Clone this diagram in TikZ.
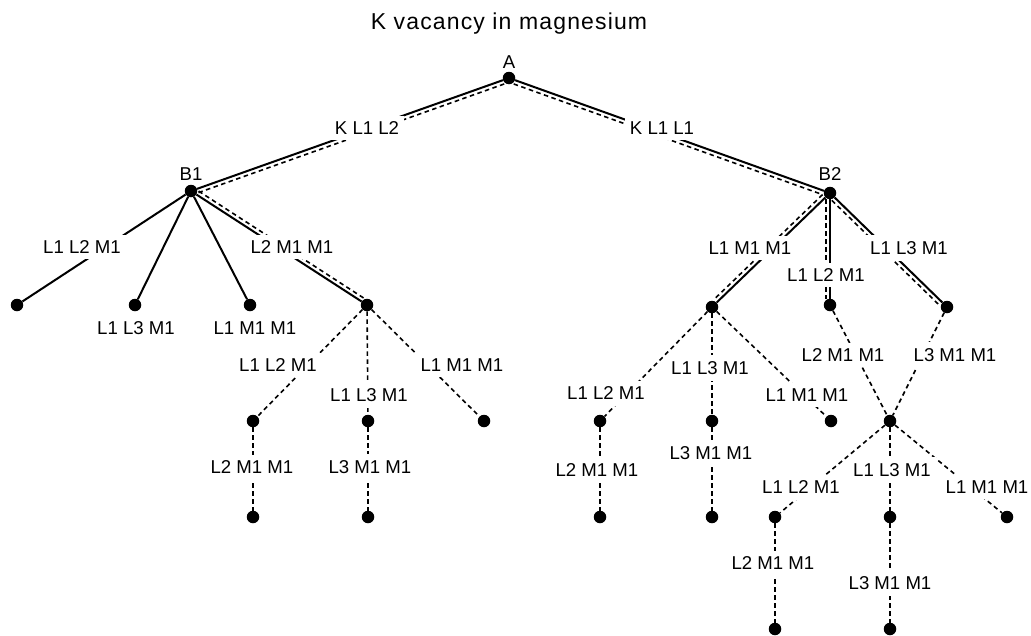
\documentclass[tikz,border=0pt]{standalone}
\usepackage{fontspec}
\setmainfont{Liberation Sans}
\begin{document}
\begin{tikzpicture}[x=1pt,y=-1pt,
  blob/.style={circle,fill=black,inner sep=0pt,minimum size=12.5pt},
  lab/.style={fill=white,inner xsep=5pt,inner ysep=6pt,font=\fontsize{18.6}{20}\selectfont},
  txt/.style={inner sep=0pt,font=\fontsize{18.6}{20}\selectfont},
  sol/.style={line width=2pt},
  dsh/.style={line width=1.6pt,dash pattern=on 4.5pt off 3.5pt}]
\useasboundingbox (0,0) rectangle (1031,635);
% title
\node[inner sep=0pt,anchor=base,font=\fontsize{23}{25}\selectfont\addfontfeature{LetterSpace=5}] (title) at (509,29.5) {K vacancy in magnesium};
% dots
\node[blob] (A) at (509,78) {};
\node[blob] (B1) at (191,191) {};
\node[blob] (B2) at (830,193) {};
\node[blob] (da) at (17,305) {};
\node[blob] (db) at (135,305) {};
\node[blob] (dc) at (250,305) {};
\node[blob] (n1) at (367,305) {};
\node[blob] (n1a) at (253,421) {};
\node[blob] (n1al) at (253,517) {};
\node[blob] (n1b) at (368,421) {};
\node[blob] (n1bl) at (368,517) {};
\node[blob] (n1c) at (484,421) {};
\node[blob] (n2) at (712,307) {};
\node[blob] (n3) at (830,305) {};
\node[blob] (n4) at (947,307) {};
\node[blob] (n2a) at (600,421) {};
\node[blob] (n2al) at (600,517) {};
\node[blob] (n2b) at (712,421) {};
\node[blob] (n2bl) at (712,517) {};
\node[blob] (n2c) at (831,421) {};
\node[blob] (n5) at (890,421) {};
\node[blob] (n5a) at (775,517) {};
\node[blob] (n5al) at (775,629) {};
\node[blob] (n5b) at (890,517) {};
\node[blob] (n5bl) at (890,629) {};
\node[blob] (n5c) at (1007,517) {};
% double edges (solid + dashed)
\draw[sol] (A) -- (B1);
\draw[dsh,transform canvas={shift={(1.3pt,-3.8pt)}}] (A) -- (B1);
\draw[sol] (A) -- (B2);
\draw[dsh,transform canvas={shift={(-1.35pt,-3.8pt)}}] (A) -- (B2);
\draw[sol] (B1) -- (n1);
\draw[dsh,transform canvas={shift={(2.2pt,3.4pt)}}] (B1) -- (n1);
\draw[sol] (B2) -- (n2);
\draw[dsh,transform canvas={shift={(-2.8pt,2.9pt)}}] (B2) -- (n2);
\draw[sol] (B2) -- (n3);
\draw[dsh,transform canvas={shift={(-4pt,0pt)}}] (B2) -- (n3);
\draw[sol] (B2) -- (n4);
\draw[dsh,transform canvas={shift={(-2.8pt,-2.9pt)}}] (B2) -- (n4);
% solid edges
\draw[sol] (B1) -- (da);
\draw[sol] (B1) -- (db);
\draw[sol] (B1) -- (dc);
% dashed edges
\draw[dsh] (n1) -- (n1a);
\draw[dsh] (n1a) -- (n1al);
\draw[dsh] (n1) -- (n1b);
\draw[dsh] (n1b) -- (n1bl);
\draw[dsh] (n1) -- (n1c);
\draw[dsh] (n2) -- (n2a);
\draw[dsh] (n2a) -- (n2al);
\draw[dsh] (n2) -- (n2b);
\draw[dsh] (n2b) -- (n2bl);
\draw[dsh] (n2) -- (n2c);
\draw[dsh] (n3) -- (n5);
\draw[dsh] (n4) -- (n5);
\draw[dsh] (n5) -- (n5a);
\draw[dsh] (n5a) -- (n5al);
\draw[dsh] (n5) -- (n5b);
\draw[dsh] (n5b) -- (n5bl);
\draw[dsh] (n5) -- (n5c);
% point labels
\node[txt] (lA) at (509,62) {A};
\node[txt] (lB1) at (191,174) {B1};
\node[txt] (lB2) at (830,174) {B2};
% transition labels
\node[lab] (t1) at (367,128) {K L1 L2};
\node[lab] (t2) at (662,128) {K L1 L1};
\node[lab] (t3) at (82,247) {L1 L2 M1};
\node[txt] (t4) at (136,328) {L1 L3 M1};
\node[txt] (t5) at (255,328) {L1 M1 M1};
\node[lab] (t6) at (292,247) {L2 M1 M1};
\node[lab] (t7) at (278,365) {L1 L2 M1};
\node[lab] (t8) at (252,467) {L2 M1 M1};
\node[lab] (t9) at (369,395) {L1 L3 M1};
\node[lab] (t10) at (370,467) {L3 M1 M1};
\node[lab] (t11) at (462,365) {L1 M1 M1};
\node[lab] (t12) at (750,248) {L1 M1 M1};
\node[lab] (t13) at (826,275) {L1 L2 M1};
\node[lab] (t14) at (909,248) {L1 L3 M1};
\node[lab] (t15) at (606,393) {L1 L2 M1};
\node[lab] (t16) at (597,470) {L2 M1 M1};
\node[lab] (t17) at (710,368) {L1 L3 M1};
\node[lab] (t18) at (711,453) {L3 M1 M1};
\node[lab] (t19) at (807,395) {L1 M1 M1};
\node[lab] (t20) at (843,355) {L2 M1 M1};
\node[lab] (t21) at (955,355) {L3 M1 M1};
\node[lab] (t22) at (801,487) {L1 L2 M1};
\node[lab] (t23) at (773,563) {L2 M1 M1};
\node[lab] (t24) at (892,470) {L1 L3 M1};
\node[lab] (t25) at (890,583) {L3 M1 M1};
\node[lab] (t26) at (987,487) {L1 M1 M1};
\end{tikzpicture}
\end{document}
